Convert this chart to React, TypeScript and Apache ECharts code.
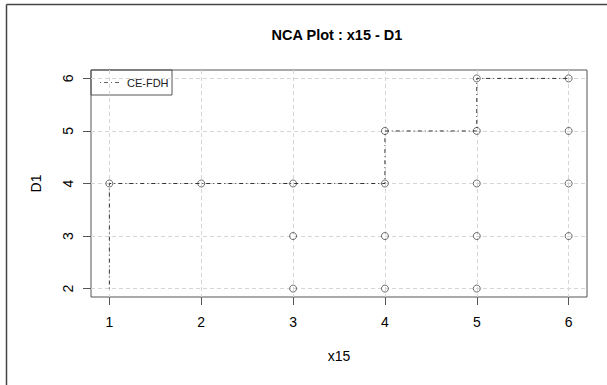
import React, { useEffect, useRef } from "react";
import * as echarts from "echarts";

const pointX = [1, 2, 3, 3, 3, 4, 4, 4, 4, 5, 5, 5, 5, 5, 6, 6, 6, 6];
const pointY = [4, 4, 4, 3, 2, 5, 4, 3, 2, 6, 5, 4, 3, 2, 6, 5, 4, 3];
const ceilingX = [1, 1, 4, 4, 5, 5, 6];
const ceilingY = [2, 4, 4, 5, 5, 6, 6];
const xTicks = [1, 2, 3, 4, 5, 6];
const yTicks = [2, 3, 4, 5, 6];
const titleText = "NCA Plot : x15 - D1";
const xName = "x15";
const yName = "D1";
const legendName = "CE-FDH";

const FONT = "Liberation Sans, Arial, sans-serif";

export default function App() {
  const ref = useRef<HTMLDivElement>(null);
  useEffect(() => {
    document.body.style.margin = "0";
    const chart = echarts.init(ref.current!, null, { renderer: "svg" });
    const gridLine = { show: true, lineStyle: { color: "#d6d6d6", type: [4, 3], width: 1 } };
    chart.setOption({
      animation: false,
      backgroundColor: "#ffffff",
      grid: {
        left: 91,
        top: 70,
        right: 20,
        bottom: 88,
        show: true,
        borderColor: "#555555",
        borderWidth: 1,
        backgroundColor: "transparent",
      },
      xAxis: {
        type: "value",
        min: 0.8,
        max: 6.2,
        name: xName,
        nameLocation: "middle",
        nameGap: 52,
        nameTextStyle: { fontFamily: FONT, fontSize: 14, color: "#000" },
        axisLine: { show: false },
        axisTick: { show: true, length: 8, customValues: xTicks, lineStyle: { color: "#555" } },
        axisLabel: {
          customValues: xTicks,
          margin: 18,
          fontFamily: FONT,
          fontSize: 14,
          color: "#000",
        },
        splitLine: gridLine,
      },
      yAxis: {
        type: "value",
        min: 1.84,
        max: 6.16,
        name: yName,
        nameLocation: "middle",
        nameGap: 48,
        nameRotate: 90,
        nameTextStyle: { fontFamily: FONT, fontSize: 14, color: "#000" },
        axisLine: { show: false },
        axisTick: { show: true, length: 8, customValues: yTicks, lineStyle: { color: "#555" } },
        axisLabel: {
          customValues: yTicks,
          rotate: 90,
          margin: 16,
          fontFamily: FONT,
          fontSize: 14,
          color: "#000",
        },
        splitLine: gridLine,
      },
      graphic: [
        { type: "line", shape: { x1: 6.5, y1: 4.5, x2: 607, y2: 4.5 }, style: { stroke: "#444", lineWidth: 1.5 } },
        { type: "line", shape: { x1: 6.5, y1: 4.5, x2: 6.5, y2: 385 }, style: { stroke: "#444", lineWidth: 1.5 } },
        {
          type: "text",
          x: 337,
          y: 35,
          style: { text: titleText, fontFamily: FONT, fontSize: 14.5, fontWeight: "bold", fill: "#000", align: "center", verticalAlign: "middle" },
        },
        { type: "rect", shape: { x: 91, y: 70, width: 81, height: 25 }, style: { fill: "transparent", stroke: "#555", lineWidth: 1 } },
        { type: "line", shape: { x1: 100, y1: 82.5, x2: 119, y2: 82.5 }, style: { stroke: "#666", lineWidth: 1, lineDash: [1, 3, 4, 3] } },
        { type: "text", x: 127, y: 82.5, style: { text: legendName, fontFamily: FONT, fontSize: 11, fill: "#222", verticalAlign: "middle" } },
      ],
      series: [
        {
          type: "line",
          data: ceilingX.map((x, i) => [x, ceilingY[i]]),
          symbol: "none",
          lineStyle: { color: "#333", width: 1, type: [1, 3, 4, 3] },
          z: 3,
        },
        {
          type: "scatter",
          data: pointX.map((x, i) => [x, pointY[i]]),
          symbol: "circle",
          symbolSize: 7,
          itemStyle: { color: "rgba(255,255,255,0)", borderColor: "#333", borderWidth: 0.9 },
          z: 4,
        },
      ],
    });
    return () => chart.dispose();
  }, []);
  return <div ref={ref} style={{ width: 607, height: 385 }} />;
}
